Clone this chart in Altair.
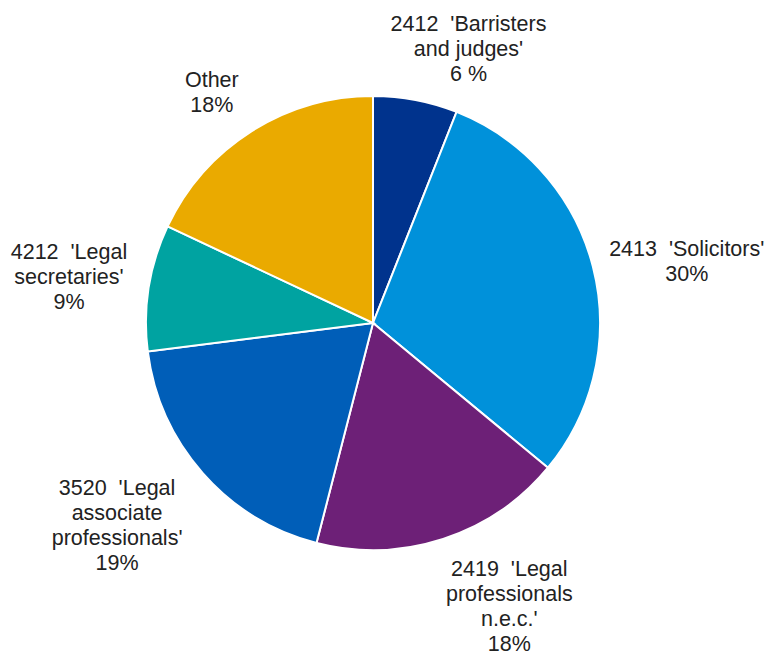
import altair as alt
import pandas as pd

NB = "\u00a0\u00a0"
# data
categories = [
    f"2412{NB}'Barristers\nand judges'",
    f"2413{NB}'Solicitors'",
    f"2419{NB}'Legal\nprofessionals\nn.e.c.'",
    f"3520{NB}'Legal\nassociate\nprofessionals'",
    f"4212{NB}'Legal\nsecretaries'",
    "Other",
]
shares = [6, 30, 18, 19, 9, 18]
pct_labels = ["6 %", "30%", "18%", "19%", "9%", "18%"]

# style / layout
colors = ["#00338D", "#0091DA", "#6D2077", "#005EB8", "#00A3A1", "#EAAA00"]
label_angle = [19.3, 79.1, 154.4, 231.5, 278.5, 324.9]   # degrees clockwise from top
label_dist = [289, 319.5, 315.5, 327, 307.4, 280.3]       # px from centre
CX, CY, R = 365, 315, 227
LH = 25

labels_full = [c + "\n" + p for c, p in zip(categories, pct_labels)]
df = pd.DataFrame({
    "cat": categories,
    "share": shares,
    "idx": list(range(len(shares))),
    "label": labels_full,
    "nl": [t.count("\n") + 1 for t in labels_full],
    "la": label_angle,
    "ld": label_dist,
})

base = alt.Chart(df)

pie = base.mark_arc(stroke="white", strokeWidth=2, outerRadius=R).encode(
    theta=alt.Theta("share:Q", stack=True),
    order=alt.Order("idx:Q"),
    color=alt.Color("cat:N", scale=alt.Scale(domain=categories, range=colors), legend=None),
    x=alt.value(CX),
    y=alt.value(CY),
)

labels = base.transform_calculate(
    lx=f"{CX} + datum.ld * sin(datum.la * PI / 180)",
    ly=f"{CY} - datum.ld * cos(datum.la * PI / 180) - (datum.nl - 1) * {LH} / 2",
).mark_text(
    font="Liberation Sans", fontSize=21.5, lineHeight=LH, lineBreak="\n",
    align="center", baseline="middle", color="#222222",
).encode(
    x=alt.X("lx:Q", scale=None),
    y=alt.Y("ly:Q", scale=None),
    text="label:N",
)

chart = alt.layer(pie, labels).properties(
    width=759, height=646, padding=0,
    autosize=alt.AutoSizeParams(type="none"),
).configure_view(stroke=None)

chart.save("out.html", embed_options={"renderer": "svg", "actions": False})
